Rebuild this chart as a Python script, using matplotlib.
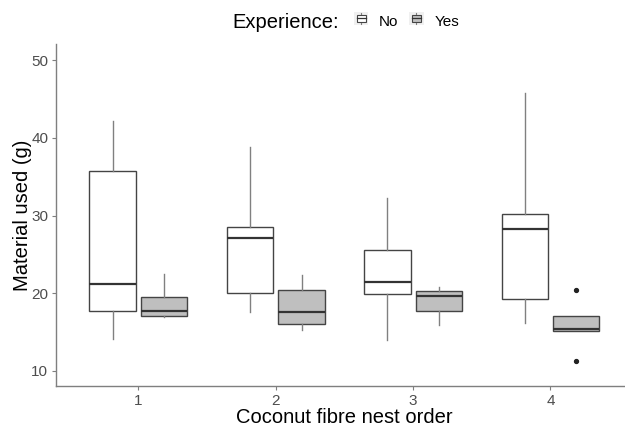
import matplotlib
matplotlib.use("Agg")
import matplotlib.pyplot as plt
from matplotlib.patches import Rectangle
from matplotlib.lines import Line2D
from matplotlib.legend_handler import HandlerBase
from matplotlib.offsetbox import HPacker

plt.rcParams['font.family'] = ['Liberation Sans', 'DejaVu Sans']

orders = [1, 2, 3, 4]
groups = ["No", "Yes"]
fills = {"No": "white", "Yes": "#bfbfbf"}

# five-number summaries: low whisker, q1, median, q3, high whisker
no_low = [14.1, 17.6, 14.0, 16.2]
no_q1 = [17.7, 20.0, 19.9, 19.3]
no_med = [21.2, 27.1, 21.5, 28.3]
no_q3 = [35.7, 28.5, 25.6, 30.2]
no_high = [42.2, 38.8, 32.3, 45.8]

yes_low = [17.0, 15.3, 15.9, 15.1]
yes_q1 = [17.1, 16.0, 17.7, 15.1]
yes_med = [17.7, 17.6, 19.65, 15.4]
yes_q3 = [19.5, 20.4, 20.3, 17.1]
yes_high = [22.5, 22.4, 20.8, 17.1]
yes_fliers = [[], [], [], [20.4, 11.3]]


def stats(low, q1, med, q3, high, fl=None):
    out = []
    for i in range(len(low)):
        out.append(dict(whislo=low[i], q1=q1[i], med=med[i], q3=q3[i],
                        whishi=high[i], fliers=fl[i] if fl else []))
    return out


fig = plt.figure(figsize=(6.25, 4.26), dpi=100)
# panel runs a little past the right edge of the picture, like the reference
ax = fig.add_axes([0.0896, 0.094, 0.923, 0.803])

width = 0.3375
common = dict(widths=width, patch_artist=True, showcaps=False,
              whiskerprops=dict(color="#808080", lw=1.0),
              medianprops=dict(color="#333333", lw=1.6),
              flierprops=dict(marker="o", markersize=2.8, markerfacecolor="#222222",
                              markeredgecolor="#222222"))

ax.bxp(stats(no_low, no_q1, no_med, no_q3, no_high),
       positions=[o - 0.1875 for o in orders],
       boxprops=dict(facecolor=fills["No"], edgecolor="#444444", lw=1.0), **common)
ax.bxp(stats(yes_low, yes_q1, yes_med, yes_q3, yes_high, yes_fliers),
       positions=[o + 0.1875 for o in orders],
       boxprops=dict(facecolor=fills["Yes"], edgecolor="#444444", lw=1.0), **common)

ax.set_xlim(0.4, 4.6)
ax.set_ylim(8.07, 52.1)
ax.set_xticks(orders)
ax.set_xticklabels([str(o) for o in orders])
ax.set_yticks([10, 20, 30, 40, 50])
for s in ["top", "right"]:
    ax.spines[s].set_visible(False)
for s in ["left", "bottom"]:
    ax.spines[s].set_color("#7f7f7f")
    ax.spines[s].set_linewidth(1.0)
ax.tick_params(colors="#7f7f7f", length=3, pad=2.5, labelsize=11, labelcolor="#4d4d4d")
ax.set_xlabel("Coconut fibre nest order", fontsize=14.5, va="baseline")
ax.xaxis.set_label_coords(0.5, -0.109)
ax.set_ylabel("Material used (g)", fontsize=14.5, va="center")
ax.yaxis.set_label_coords(-0.058, 0.5)


class BoxKey(HandlerBase):
    def create_artists(self, legend, orig, xd, yd, w, h, fontsize, trans):
        cx = xd + w / 2
        bg = Rectangle((xd, yd), w, h, facecolor="#f0f0f0", edgecolor="none",
                       transform=trans)
        v = Line2D([cx, cx], [yd + h * 0.05, yd + h * 0.95], color="#808080", lw=0.8,
                   transform=trans)
        r = Rectangle((xd + w * 0.18, yd + h * 0.25), w * 0.64, h * 0.5,
                      facecolor=orig.get_facecolor(), edgecolor="#444444",
                      lw=0.8, transform=trans)
        m = Line2D([xd + w * 0.18, xd + w * 0.82], [yd + h * 0.5, yd + h * 0.5],
                   color="#333333", lw=0.9, transform=trans)
        return [bg, v, r, m]


handles = [Rectangle((0, 0), 1, 1, facecolor=fills[g]) for g in groups]
leg = fig.legend(handles, groups, loc="upper center", bbox_to_anchor=(0.553, 0.985),
                 ncol=2, frameon=False, fontsize=11, title="Experience:",
                 title_fontsize=14.5, handler_map={Rectangle: BoxKey()},
                 handlelength=0.95, handleheight=0.95, handletextpad=0.7,
                 columnspacing=0.7, borderaxespad=0)
# title to the left of the keys, as in a top legend
leg._legend_box._children = [HPacker(pad=0, sep=11,
                                     children=[leg._legend_title_box, leg._legend_handle_box],
                                     align="center")]

fig.savefig("out.png", dpi=100)
